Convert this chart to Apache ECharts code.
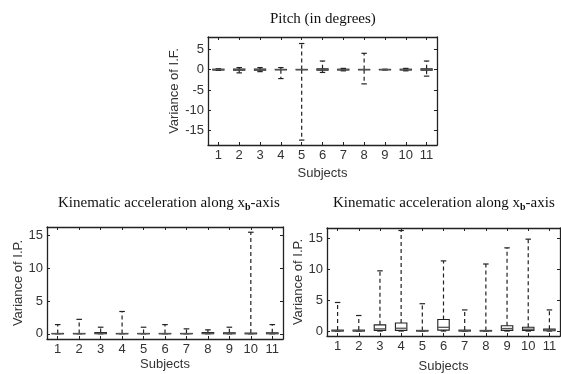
<!DOCTYPE html>
<html>
<head>
<meta charset="utf-8">
<script src="https://cdn.jsdelivr.net/npm/echarts@6/dist/echarts.min.js"></script>
<style>
  html, body { margin: 0; padding: 0; background: #fff; }
  #main { width: 561px; height: 374px; }
</style>
</head>
<body>
<div id="main"></div>
<script>
var subjects = ['1', '2', '3', '4', '5', '6', '7', '8', '9', '10', '11'];

// Pitch (in degrees): whisker low, q1, median, q3, whisker high
var pitchLow  = [-0.2, -0.8, -0.5, -2.2, -17.3, -0.7, -0.3, -3.5, -0.1, -0.3, -1.6];
var pitchQ1   = [-0.1, -0.15, -0.15, -0.05, -0.05, -0.15, -0.1, -0.05, -0.05, -0.1, -0.15];
var pitchMed  = [0, 0, 0, 0, 0, 0, 0, 0, 0, 0, 0];
var pitchQ3   = [0.1, 0.15, 0.15, 0.05, 0.05, 0.2, 0.1, 0.05, 0.05, 0.1, 0.2];
var pitchHigh = [0.2, 0.5, 0.5, 0.5, 6.4, 2.1, 0.3, 4.0, 0.1, 0.3, 2.1];

// Kinematic acceleration along xb-axis (left panel)
var accALow  = [0, 0, 0, 0, 0, 0, 0, 0, 0, 0, 0];
var accAQ1   = [0, 0, 0, 0, 0, 0, 0, 0, 0, 0, 0];
var accAMed  = [0.02, 0.02, 0.05, 0.02, 0.02, 0.02, 0.02, 0.05, 0.05, 0.03, 0.05];
var accAQ3   = [0.05, 0.05, 0.2, 0.05, 0.05, 0.05, 0.05, 0.2, 0.15, 0.1, 0.15];
var accAHigh = [1.4, 2.2, 1.0, 3.4, 1.0, 1.4, 0.75, 0.6, 1.0, 15.5, 1.4];

// Kinematic acceleration along xb-axis (right panel)
var accBLow  = [0, 0, 0, 0, 0, 0, 0, 0, 0, 0, 0];
var accBQ1   = [0, 0, 0.1, 0.1, 0, 0.15, 0, 0, 0.1, 0.1, 0.05];
var accBMed  = [0.05, 0.05, 0.35, 0.45, 0.05, 0.6, 0.05, 0.05, 0.4, 0.3, 0.15];
var accBQ3   = [0.15, 0.15, 1.0, 1.3, 0.1, 1.85, 0.15, 0.1, 0.85, 0.6, 0.3];
var accBHigh = [4.6, 2.5, 9.7, 16.2, 4.4, 11.3, 3.4, 10.8, 13.4, 14.8, 3.4];

var chart = echarts.init(document.getElementById('main'));

var ink = '#222';
var sans = "'Liberation Sans', Arial, sans-serif";
var serif = "'Liberation Serif', 'Times New Roman', serif";

function boxData(lo, q1, med, q3, hi) {
    return subjects.map(function (s, i) {
        return [i, lo[i], q1[i], med[i], q3[i], hi[i]];
    });
}

function renderBox(params, api) {
    var i = api.value(0);
    var band = api.size([1, 0])[0];
    var bw = band * 0.27, cw = band * 0.13;
    var lo = api.coord([i, api.value(1)]);
    var q1 = api.coord([i, api.value(2)]);
    var med = api.coord([i, api.value(3)]);
    var q3 = api.coord([i, api.value(4)]);
    var hi = api.coord([i, api.value(5)]);
    var x = med[0];
    var solid = { stroke: ink, lineWidth: 1.2 };
    var dash = { stroke: ink, lineWidth: 1.2, lineDash: [4, 3] };
    return {
        type: 'group',
        children: [
            { type: 'line', shape: { x1: x, y1: q3[1], x2: x, y2: hi[1] }, style: dash },
            { type: 'line', shape: { x1: x, y1: q1[1], x2: x, y2: lo[1] }, style: dash },
            { type: 'line', shape: { x1: x - cw, y1: hi[1], x2: x + cw, y2: hi[1] }, style: solid },
            { type: 'line', shape: { x1: x - cw, y1: lo[1], x2: x + cw, y2: lo[1] }, style: solid },
            { type: 'rect', shape: { x: x - bw, y: q3[1], width: 2 * bw, height: q1[1] - q3[1] },
              style: { stroke: ink, lineWidth: 1.1, fill: 'none' } },
            { type: 'line', shape: { x1: x - bw, y1: med[1], x2: x + bw, y2: med[1] },
              style: { stroke: '#555', lineWidth: 1.3 } }
        ]
    };
}

var axisLine = { show: true, onZero: false, lineStyle: { color: ink, width: 1.3 } };
var tick = { show: true, inside: true, length: 3, lineStyle: { color: ink } };

function xAxes(g, gap) {
    return [{
        type: 'category', gridIndex: g, data: subjects, position: 'bottom',
        axisLine: axisLine, axisTick: Object.assign({ alignWithLabel: true }, tick),
        axisLabel: { color: '#333', fontFamily: sans, fontSize: 13, margin: 4 },
        name: 'Subjects', nameLocation: 'middle', nameGap: gap,
        nameTextStyle: { color: '#333', fontFamily: sans, fontSize: 13 }
    }, {
        type: 'category', gridIndex: g, data: subjects, position: 'top',
        axisLine: axisLine, axisTick: Object.assign({ alignWithLabel: true }, tick),
        axisLabel: { show: false }
    }];
}

function yAxes(g, min, max, split, name, gap) {
    return [{
        type: 'value', gridIndex: g, min: min, max: max, splitNumber: split, position: 'left',
        axisLine: axisLine, axisTick: tick, splitLine: { show: false },
        axisLabel: { color: '#333', fontFamily: sans, fontSize: 13, margin: 4,
                     showMinLabel: false, showMaxLabel: false },
        name: name, nameLocation: 'middle', nameGap: gap, nameRotate: 90,
        nameTextStyle: { color: '#333', fontFamily: sans, fontSize: 13 }
    }, {
        type: 'value', gridIndex: g, min: min, max: max, splitNumber: split, position: 'right',
        axisLine: axisLine, axisTick: tick, splitLine: { show: false },
        axisLabel: { show: false }
    }];
}

var kinTitle = '{n|Kinematic acceleration along x}{s|b}{n|-axis}';
var kinRich = {
    n: { fontFamily: serif, fontSize: 15, fontWeight: 'normal', color: '#111' },
    s: { fontFamily: serif, fontSize: 10, fontWeight: 'bold', color: '#111', padding: [7, 0, 0, 0] }
};

var option = {
    animation: false,
    title: [
        { text: 'Pitch (in degrees)', left: 270, top: 12, padding: 0,
          textStyle: { fontFamily: serif, fontSize: 15, fontWeight: 'normal', color: '#111' } },
        { text: kinTitle, left: 58, top: 195, padding: 0,
          textStyle: { fontWeight: 'normal', rich: kinRich } },
        { text: kinTitle, left: 333, top: 195, padding: 0,
          textStyle: { fontWeight: 'normal', rich: kinRich } }
    ],
    grid: [
        { left: 208, top: 37, width: 229, height: 108 },
        { left: 47, top: 227, width: 236, height: 112 },
        { left: 327, top: 228, width: 233, height: 111 }
    ],
    xAxis: [].concat(xAxes(0, 22), xAxes(1, 19), xAxes(2, 24)),
    yAxis: [].concat(
        yAxes(0, -18.5, 8, 5, 'Variance of I.F.', 24),
        yAxes(1, -0.8, 16.3, 3, 'Variance of I.P.', 21),
        yAxes(2, -0.8, 16.6, 3, 'Variance of I.P.', 17)
    ),
    series: [
        { type: 'custom', xAxisIndex: 0, yAxisIndex: 0, renderItem: renderBox,
          encode: { x: 0, y: [1, 2, 3, 4, 5] },
          data: boxData(pitchLow, pitchQ1, pitchMed, pitchQ3, pitchHigh) },
        { type: 'custom', xAxisIndex: 2, yAxisIndex: 2, renderItem: renderBox,
          encode: { x: 0, y: [1, 2, 3, 4, 5] },
          data: boxData(accALow, accAQ1, accAMed, accAQ3, accAHigh) },
        { type: 'custom', xAxisIndex: 4, yAxisIndex: 4, renderItem: renderBox,
          encode: { x: 0, y: [1, 2, 3, 4, 5] },
          data: boxData(accBLow, accBQ1, accBMed, accBQ3, accBHigh) }
    ]
};

chart.setOption(option);
</script>
</body>
</html>
